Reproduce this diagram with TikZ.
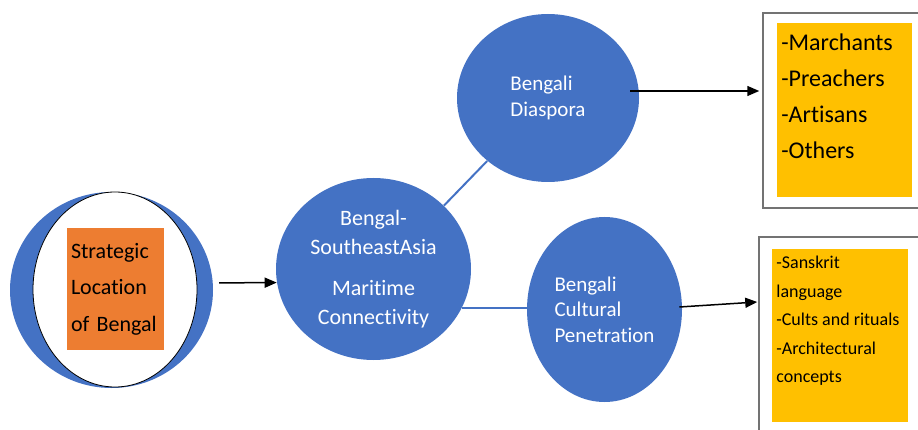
\documentclass[tikz,border=0pt]{standalone}
\usepackage{fontspec}
\setmainfont{Carlito}[Ligatures=NoCommon]
\usetikzlibrary{shapes.geometric,arrows.meta}

\definecolor{bubbleblue}{RGB}{68,114,196}
\definecolor{locorange}{RGB}{237,125,49}
\definecolor{listyellow}{RGB}{255,192,0}

\tikzset{every picture/.style={line width=0.75pt}}
\tikzset{
  bubble/.style={ellipse, fill=bubbleblue, draw=none, text=white, inner sep=0pt},
  listframe/.style={rectangle, draw=black!55, line width=1.5pt, fill=white, inner sep=0pt},
  listfill/.style={rectangle, fill=listyellow, inner sep=0pt},
  listtext/.style={align=left, inner sep=0pt, anchor=north west, text=black},
  arrowline/.style={line width=1.5pt, -{Triangle[length=12pt,width=10pt]}},
  linkline/.style={draw=bubbleblue, line width=2pt}
}

\begin{document}
\begin{tikzpicture}[x=1pt,y=1pt,yscale=-1,xscale=1]
\path[use as bounding box] (0,0) rectangle (918,430);

%Shape: Ring round the location box
\node[bubble, minimum width=203pt, minimum height=196pt] (ring) at (111.5,290) {};
\node[ellipse, fill=white, draw=black, line width=0.8pt, minimum width=164pt, minimum height=195pt, inner sep=0pt] (ringin) at (115,289.5) {};
\node[rectangle, fill=locorange, minimum width=97pt, minimum height=122pt, inner sep=4pt, text width=89pt, align=left, font=\fontsize{22}{36.5}\selectfont] (strat) at (115.5,289) {Strategic\\Location\\of Bengal};

%Shape: Bubbles
\node[bubble, minimum width=195pt, minimum height=182pt, align=center, font=\fontsize{22}{29}\selectfont] (bsmc) at (373.5,269) {Bengal-\\SoutheastAsia\\[12pt]Maritime\\Connectivity};
\node[bubble, minimum width=182pt, minimum height=168pt, align=left, font=\fontsize{21}{26}\selectfont] (diaspora) at (548,98) {Bengali\\Diaspora};
\node[bubble, minimum width=155pt, minimum height=185pt, align=left, font=\fontsize{21}{25.5}\selectfont] (cultural) at (604.5,309.5) {Bengali\\Cultural\\Penetration};

%Shape: List boxes
\node[listframe, minimum width=159pt, minimum height=195pt] (dframe) at (842.5,110.5) {};
\node[listfill, minimum width=135pt, minimum height=174pt] (dfill) at (844.5,110) {};
\node[listframe, minimum width=163pt, minimum height=198pt] (cframe) at (840.5,336) {};
\node[listfill, minimum width=136pt, minimum height=173pt] (cfill) at (840,335.5) {};

% Text Node
\node[listtext, font=\fontsize{24}{36}\selectfont] (dlist) at (781,33) {-Marchants\\-Preachers\\-Artisans\\-Others};
% Text Node
\node[listtext, font=\fontsize{18}{28.5}\selectfont] (clist) at (776,256) {-Sanskrit\\language\\-Cults and rituals\\-Architectural\\concepts};

%Straight Lines
\draw[linkline] (bsmc.42) -- (diaspora.226);
\draw[linkline] (bsmc.336) -- (bsmc.336 -| cultural.west);

%Arrows
\draw[arrowline, shorten <=6pt] (ring.4) -- (bsmc.188);
\draw[arrowline] ([xshift=-9pt,yshift=-7pt]diaspora.east) -- ([xshift=-3pt,yshift=-19.5pt]dframe.west);
\draw[arrowline] ([xshift=-3pt,yshift=-2.5pt]cultural.east) -- ([xshift=-1pt,yshift=-34pt]cframe.west);

\end{tikzpicture}
\end{document}
